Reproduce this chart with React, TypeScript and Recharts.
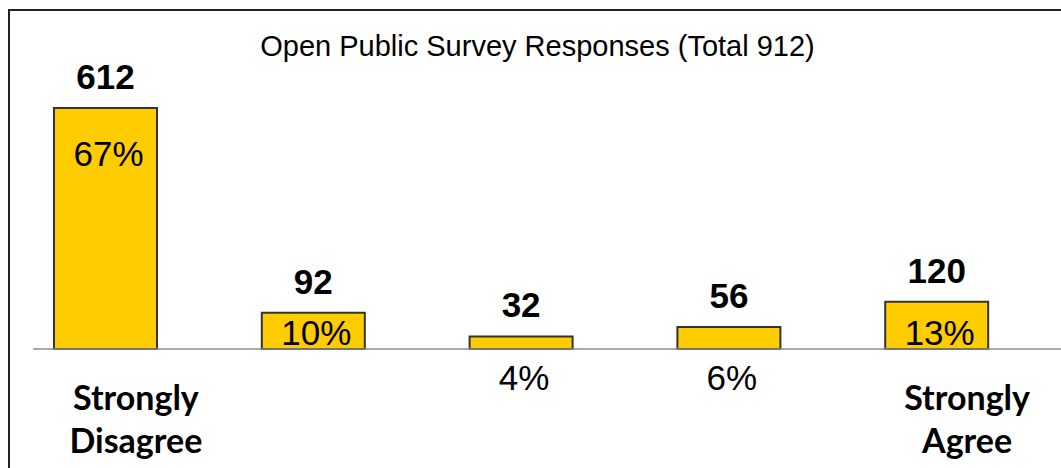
import { Bar, BarChart, LabelList, ReferenceLine, XAxis, YAxis } from "recharts";

const categories = ["Strongly Disagree", "2", "3", "4", "Strongly Agree"];
const tickLines: string[][] = [["Strongly", "Disagree"], [], [], [], ["Strongly", "Agree"]];
const responses = [612, 92, 32, 56, 120];
const percents = ["67%", "10%", "4%", "6%", "13%"];

const data = categories.map((c, i) => ({
  category: c,
  count: responses[i],
  pct: percents[i],
  lines: tickLines[i],
}));

const BASE_Y = 349;

function ValueLabel(props: any) {
  const { x, y, width, value } = props;
  return (
    <text
      x={x + width / 2}
      y={y - 19}
      textAnchor="middle"
      fontFamily="'Liberation Sans', Arial, sans-serif"
      fontWeight={700}
      fontSize={35}
      fill="#000"
    >
      {value}
    </text>
  );
}

function PctLabel(props: any) {
  const { x, y, width, height, value } = props;
  const inside = height >= 30;
  const ty = inside ? Math.min(y + 58, BASE_Y - 4) : BASE_Y + 41;
  return (
    <text
      x={x + width / 2 + 3}
      y={ty}
      textAnchor="middle"
      fontFamily="'Liberation Sans', Arial, sans-serif"
      fontSize={35}
      fill="#000"
    >
      {value}
    </text>
  );
}

function CategoryTick(props: any) {
  const { x, y, index } = props;
  const lines = tickLines[index] ?? [];
  return (
    <g>
      {lines.map((l, i) => (
        <text
          key={i}
          x={x + 30}
          y={y + 61 + i * 43}
          textAnchor="middle"
          fontFamily="Lato, 'Open Sans', sans-serif"
          fontWeight={700}
          fontSize={34}
          fill="#000"
        >
          {l}
        </text>
      ))}
    </g>
  );
}

export default function App() {
  return (
    <div
      style={{
        position: "absolute",
        left: 0,
        top: 0,
        width: 1061,
        height: 468,
        overflow: "hidden",
        background: "#fff",
      }}
    >
      <div
        style={{
          position: "absolute",
          left: 8,
          top: 9,
          width: 1100,
          height: 500,
          borderTop: "2px solid #222",
          borderLeft: "2px solid #222",
        }}
      />
      <div
        style={{
          position: "absolute",
          left: 0,
          top: 32,
          width: 1075,
          textAlign: "center",
          fontFamily: "'Liberation Sans', Arial, sans-serif",
          fontSize: 29,
          lineHeight: "29px",
          color: "#000",
        }}
      >
        Open Public Survey Responses (Total 912)
      </div>
      <BarChart
        width={1061}
        height={468}
        data={data}
        margin={{ top: 34, right: 20, bottom: 19, left: 2 }}
        style={{ position: "absolute", left: 0, top: 0 }}
      >
        <XAxis
          dataKey="category"
          height={100}
          axisLine={false}
          tickLine={false}
          tickSize={0}
          tickMargin={0}
          interval={0}
          tick={<CategoryTick />}
        />
        <YAxis hide domain={[0, 800]} />
        <ReferenceLine
          y={0}
          ifOverflow="visible"
          shape={(p: any) => (
            <line x1={33} y1={p.y1} x2={1061} y2={p.y2} stroke="#8c8c8c" strokeWidth={1.5} />
          )}
        />
        <Bar
          dataKey="count"
          barSize={103}
          fill="#FFCC00"
          stroke="#333"
          strokeWidth={2}
          isAnimationActive={false}
        >
          <LabelList dataKey="count" content={<ValueLabel />} />
          <LabelList dataKey="pct" content={<PctLabel />} />
        </Bar>
      </BarChart>
    </div>
  );
}
